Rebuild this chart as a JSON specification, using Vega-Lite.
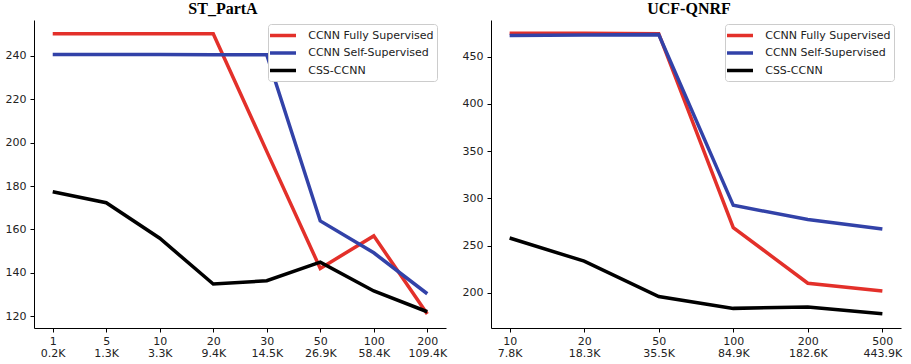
{
  "$schema": "https://vega.github.io/schema/vega-lite/v6.json",
  "padding": {"left": 5, "top": 1, "right": 5, "bottom": 0},
  "background": "white",
  "config": {
    "view": {"stroke": null},
    "axis": {"grid": false, "domainColor": "#000", "domainWidth": 1, "tickColor": "#000", "tickSize": 4, "labelFont": "DejaVu Sans", "labelFontSize": 11, "labelColor": "#222", "labelPadding": 4, "title": null},
    "axisX": {"labelPadding": 3},
    "title": {"font": "Liberation Serif", "fontSize": 16, "fontWeight": "bold", "color": "#000", "offset": 3, "frame": "group"},
    "legend": {"orient": "none", "legendX": 234, "legendY": 4, "title": null, "symbolType": "M-2,0H2", "symbolSize": 169, "symbolStrokeWidth": 3.5, "labelFont": "DejaVu Sans", "labelFontSize": 11, "labelColor": "#222", "strokeColor": "#cccccc", "fillColor": "white", "cornerRadius": 3, "padding": 3, "rowPadding": 1.5, "symbolOffset": 3.5, "labelOffset": 16.7}
  },
  "data": {"values": [
    {"panel": "ST_PartA", "k": "1\n0.2K", "series": "CCNN Fully Supervised", "mae": 250.3},
    {"panel": "ST_PartA", "k": "5\n1.3K", "series": "CCNN Fully Supervised", "mae": 250.3},
    {"panel": "ST_PartA", "k": "10\n3.3K", "series": "CCNN Fully Supervised", "mae": 250.3},
    {"panel": "ST_PartA", "k": "20\n9.4K", "series": "CCNN Fully Supervised", "mae": 250.3},
    {"panel": "ST_PartA", "k": "30\n14.5K", "series": "CCNN Fully Supervised", "mae": 196},
    {"panel": "ST_PartA", "k": "50\n26.9K", "series": "CCNN Fully Supervised", "mae": 142},
    {"panel": "ST_PartA", "k": "100\n58.4K", "series": "CCNN Fully Supervised", "mae": 157},
    {"panel": "ST_PartA", "k": "200\n109.4K", "series": "CCNN Fully Supervised", "mae": 121},
    {"panel": "ST_PartA", "k": "1\n0.2K", "series": "CCNN Self-Supervised", "mae": 240.7},
    {"panel": "ST_PartA", "k": "5\n1.3K", "series": "CCNN Self-Supervised", "mae": 240.7},
    {"panel": "ST_PartA", "k": "10\n3.3K", "series": "CCNN Self-Supervised", "mae": 240.7},
    {"panel": "ST_PartA", "k": "20\n9.4K", "series": "CCNN Self-Supervised", "mae": 240.6},
    {"panel": "ST_PartA", "k": "30\n14.5K", "series": "CCNN Self-Supervised", "mae": 240.6},
    {"panel": "ST_PartA", "k": "50\n26.9K", "series": "CCNN Self-Supervised", "mae": 163.9},
    {"panel": "ST_PartA", "k": "100\n58.4K", "series": "CCNN Self-Supervised", "mae": 149.2},
    {"panel": "ST_PartA", "k": "200\n109.4K", "series": "CCNN Self-Supervised", "mae": 130.3},
    {"panel": "ST_PartA", "k": "1\n0.2K", "series": "CSS-CCNN", "mae": 177.4},
    {"panel": "ST_PartA", "k": "5\n1.3K", "series": "CSS-CCNN", "mae": 172.3},
    {"panel": "ST_PartA", "k": "10\n3.3K", "series": "CSS-CCNN", "mae": 155.9},
    {"panel": "ST_PartA", "k": "20\n9.4K", "series": "CSS-CCNN", "mae": 134.8},
    {"panel": "ST_PartA", "k": "30\n14.5K", "series": "CSS-CCNN", "mae": 136.3},
    {"panel": "ST_PartA", "k": "50\n26.9K", "series": "CSS-CCNN", "mae": 144.9},
    {"panel": "ST_PartA", "k": "100\n58.4K", "series": "CSS-CCNN", "mae": 131.6},
    {"panel": "ST_PartA", "k": "200\n109.4K", "series": "CSS-CCNN", "mae": 122},
    {"panel": "UCF-QNRF", "k": "10\n7.8K", "series": "CCNN Fully Supervised", "mae": 475},
    {"panel": "UCF-QNRF", "k": "20\n18.3K", "series": "CCNN Fully Supervised", "mae": 475},
    {"panel": "UCF-QNRF", "k": "50\n35.5K", "series": "CCNN Fully Supervised", "mae": 474.5},
    {"panel": "UCF-QNRF", "k": "100\n84.9K", "series": "CCNN Fully Supervised", "mae": 269},
    {"panel": "UCF-QNRF", "k": "200\n182.6K", "series": "CCNN Fully Supervised", "mae": 210},
    {"panel": "UCF-QNRF", "k": "500\n443.9K", "series": "CCNN Fully Supervised", "mae": 201.7},
    {"panel": "UCF-QNRF", "k": "10\n7.8K", "series": "CCNN Self-Supervised", "mae": 472.5},
    {"panel": "UCF-QNRF", "k": "20\n18.3K", "series": "CCNN Self-Supervised", "mae": 473},
    {"panel": "UCF-QNRF", "k": "50\n35.5K", "series": "CCNN Self-Supervised", "mae": 473.5},
    {"panel": "UCF-QNRF", "k": "100\n84.9K", "series": "CCNN Self-Supervised", "mae": 292.6},
    {"panel": "UCF-QNRF", "k": "200\n182.6K", "series": "CCNN Self-Supervised", "mae": 277.5},
    {"panel": "UCF-QNRF", "k": "500\n443.9K", "series": "CCNN Self-Supervised", "mae": 267.6},
    {"panel": "UCF-QNRF", "k": "10\n7.8K", "series": "CSS-CCNN", "mae": 258},
    {"panel": "UCF-QNRF", "k": "20\n18.3K", "series": "CSS-CCNN", "mae": 233.4},
    {"panel": "UCF-QNRF", "k": "50\n35.5K", "series": "CSS-CCNN", "mae": 196},
    {"panel": "UCF-QNRF", "k": "100\n84.9K", "series": "CSS-CCNN", "mae": 183.4},
    {"panel": "UCF-QNRF", "k": "200\n182.6K", "series": "CSS-CCNN", "mae": 184.8},
    {"panel": "UCF-QNRF", "k": "500\n443.9K", "series": "CSS-CCNN", "mae": 177.7}
  ]},
  "spacing": 45,
  "bounds": "flush",
  "resolve": {"scale": {"color": "independent", "x": "independent", "y": "independent"}, "legend": {"color": "independent"}},
  "hconcat": [
    {
      "title": {"text": "ST_PartA", "dx": -17},
      "width": 412,
      "height": 308,
      "transform": [{"filter": "datum.panel === 'ST_PartA'"}],
      "mark": {"type": "line", "strokeWidth": 3.5},
      "encoding": {
        "x": {"field": "k", "type": "ordinal", "sort": null, "scale": {"type": "point", "padding": 0.35}, "axis": {"labelAngle": 0, "labelExpr": "split(datum.label, '\\n')", "labelLineHeight": 12}},
        "y": {"field": "mae", "type": "quantitative", "scale": {"domain": [114.5, 256.6], "nice": false, "zero": false}, "axis": {"values": [120, 140, 160, 180, 200, 220, 240]}},
        "color": {"field": "series", "type": "nominal", "sort": null, "scale": {"domain": ["CCNN Fully Supervised", "CCNN Self-Supervised", "CSS-CCNN"], "range": ["#e3302a", "#3242a8", "#000000"]}}
      }
    },
    {
      "title": {"text": "UCF-QNRF", "dx": -7},
      "width": 410,
      "height": 308,
      "transform": [{"filter": "datum.panel === 'UCF-QNRF'"}],
      "mark": {"type": "line", "strokeWidth": 3.5},
      "encoding": {
        "x": {"field": "k", "type": "ordinal", "sort": null, "scale": {"type": "point", "padding": 0.25}, "axis": {"labelAngle": 0, "labelExpr": "split(datum.label, '\\n')", "labelLineHeight": 12}},
        "y": {"field": "mae", "type": "quantitative", "scale": {"domain": [162.6, 489], "nice": false, "zero": false}, "axis": {"values": [200, 250, 300, 350, 400, 450]}},
        "color": {"field": "series", "type": "nominal", "sort": null, "scale": {"domain": ["CCNN Fully Supervised", "CCNN Self-Supervised", "CSS-CCNN"], "range": ["#e3302a", "#3242a8", "#000000"]}}
      }
    }
  ]
}
